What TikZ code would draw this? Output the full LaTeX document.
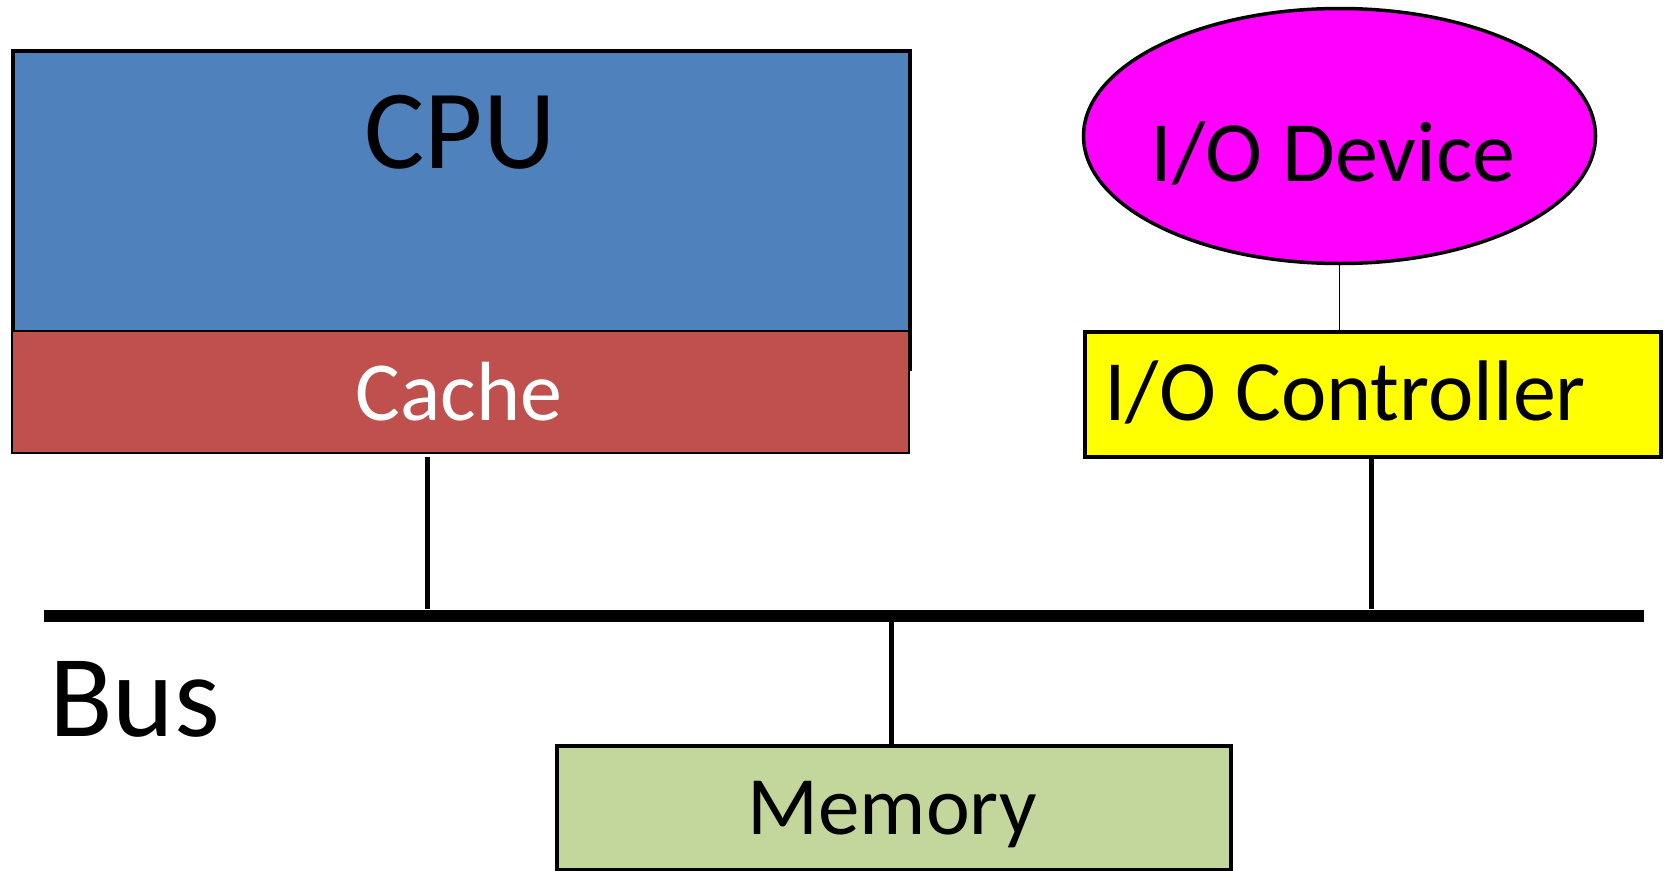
\documentclass[tikz,border=0pt]{standalone}
\usepackage{fontspec}
\setmainfont{Carlito}
\usetikzlibrary{shapes.geometric}
\definecolor{cpublue}{HTML}{4F81BD}
\definecolor{cachered}{HTML}{C0504D}
\definecolor{devmagenta}{HTML}{FF00FF}
\definecolor{ctrlyellow}{HTML}{FFFF00}
\definecolor{memgreen}{HTML}{C3D69B}
\tikzset{
  unitbox/.style={rectangle, draw=black, line width=3.5pt, inner sep=0pt, anchor=north west},
  wire/.style={draw=black, line width=5pt},
  thinwire/.style={draw=black, line width=1.8pt},
  lbl/.style={inner sep=0pt, anchor=base},
}
\begin{document}
\begin{tikzpicture}[x=1pt, y=-1pt]
\useasboundingbox (0,0) rectangle (1667,870);

% processor with its cache strip
\node[unitbox, fill=cpublue, minimum width=897pt, minimum height=318pt] (cpu) at (11,49) {};
\node[unitbox, fill=cachered, line width=2pt, minimum width=897pt, minimum height=122pt] (cache) at (11,330) {};
\node[lbl, font=\fontsize{113}{113}\selectfont] (cputext) at (460,168) {CPU};
\node[lbl, font=\fontsize{84}{84}\selectfont, text=white] (cachetext) at (459,420) {Cache};

% device and controller
\node[ellipse, draw=black, line width=3.5pt, fill=devmagenta, minimum width=512pt, minimum height=255pt, inner sep=0pt] (dev) at (1339.5,136) {};
\node[lbl, font=\fontsize{86}{86}\selectfont] (devtext) at (1333,181) {I/O Device};
\node[unitbox, fill=ctrlyellow, minimum width=576pt, minimum height=125pt] (ctrl) at (1083,330) {};
\node[lbl, anchor=base west, font=\fontsize{86}{86}\selectfont] (ctrltext) at (1104,420) {I/O Controller};

% system bus
\node[rectangle, fill=black, inner sep=0pt, minimum width=1600pt, minimum height=12pt] (bus) at (843.6,615.5) {};
\node[lbl, anchor=base west, font=\fontsize{117}{117}\selectfont] (bustext) at (49,736) {Bus};

% main memory
\node[unitbox, fill=memgreen, minimum width=674pt, minimum height=124pt] (mem) at (555,744) {};
\node[lbl, font=\fontsize{83}{83}\selectfont] (memtext) at (892,834) {Memory};

% connections
\coordinate (ctap) at (427,457);
\coordinate (iotap) at (1371.4,455);
\coordinate (mtap) at (891,621);
\draw[thinwire] (dev.south) -- (dev.south |- ctrl.north);
\draw[wire] (ctap) -- (ctap |- bus.north);
\draw[wire] (iotap) -- (iotap |- bus.north);
\draw[wire] (mtap |- bus.south) -- (mtap |- mem.north);
\end{tikzpicture}
\end{document}
